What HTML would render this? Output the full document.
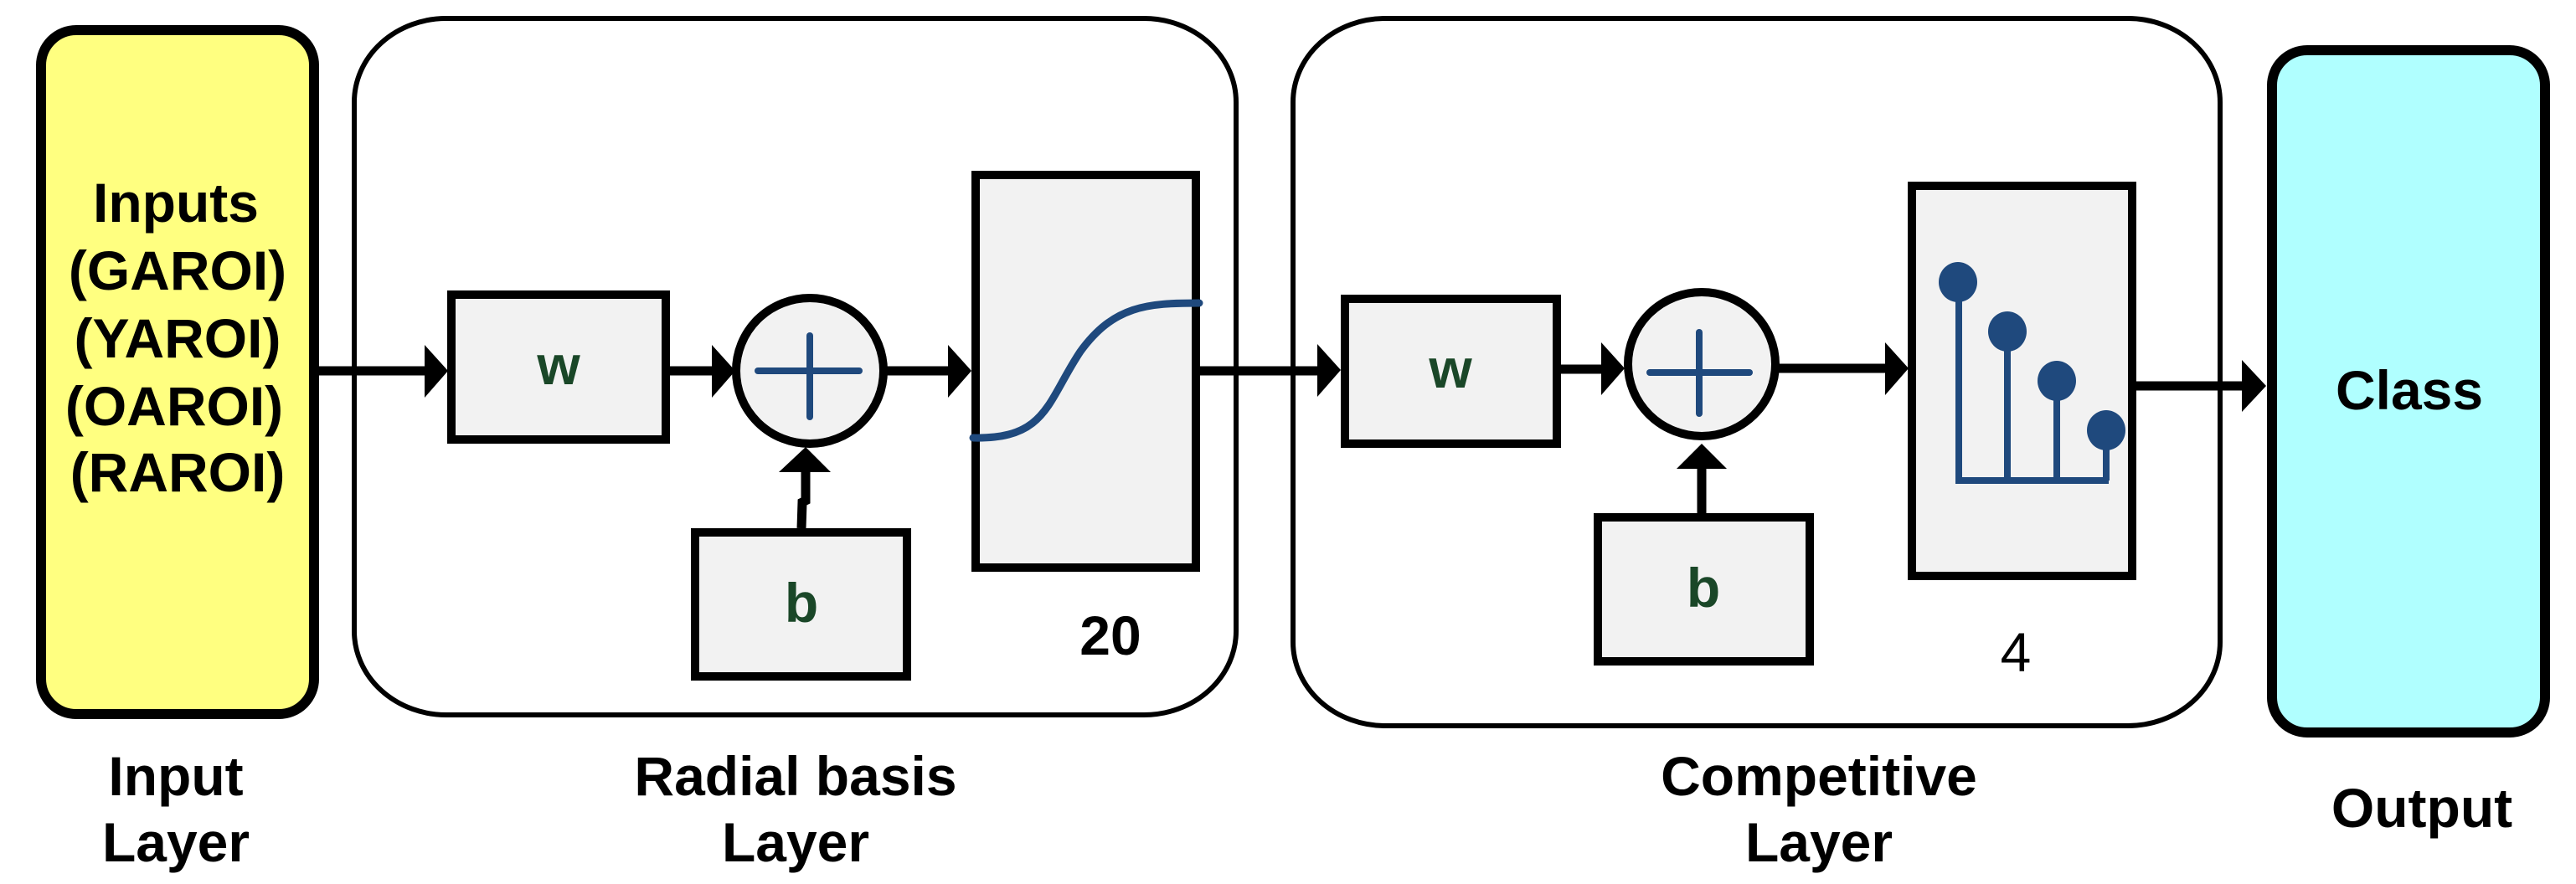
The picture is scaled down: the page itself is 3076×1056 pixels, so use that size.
<!DOCTYPE html>
<html><head><meta charset="utf-8"><style>html,body{margin:0;padding:0;background:#fff}svg{display:block}</style></head><body>
<svg width="3076" height="1056" viewBox="0 0 3076 1056" xmlns="http://www.w3.org/2000/svg" font-family="Liberation Sans, Arial, sans-serif" font-weight="bold">
<!-- Input layer -->
<rect x="49" y="36" width="326" height="817" rx="42" ry="42" fill="#ffff80" stroke="#000" stroke-width="12"/>
<g font-size="66" text-anchor="middle" fill="#000">
<text x="210" y="265">Inputs</text>
<text x="212" y="346">(GAROI)</text>
<text x="212" y="427">(YAROI)</text>
<text x="208" y="508">(OAROI)</text>
<text x="212" y="587">(RAROI)</text>
</g>
<!-- Radial basis box -->
<rect x="423" y="22" width="1053" height="832" rx="110" ry="100" fill="none" stroke="#000" stroke-width="6"/>
<!-- Competitive box -->
<rect x="1544" y="22" width="1107" height="845" rx="110" ry="100" fill="none" stroke="#000" stroke-width="6"/>
<!-- Output -->
<rect x="2713" y="60" width="326" height="815" rx="42" ry="42" fill="#b0ffff" stroke="#000" stroke-width="12"/>

<!-- connectors -->
<g stroke="#000" stroke-width="11" fill="none">
<line x1="375" y1="443" x2="510" y2="443"/>
<line x1="800" y1="443" x2="855" y2="443"/>
<line x1="1056" y1="443" x2="1135" y2="443"/>
<line x1="1433" y1="443" x2="1575" y2="443"/>
<line x1="1863" y1="441" x2="1915" y2="441"/>
<line x1="2122" y1="440" x2="2255" y2="440"/>
<line x1="2551" y1="461" x2="2680" y2="461"/>
<polyline points="957,631 958,600 962,598 962,560"/>
<line x1="2032" y1="613" x2="2032" y2="555"/>
</g>
<g fill="#000">
<polygon points="507,412 535,443 507,475"/>
<polygon points="850,412 878,443 850,475"/>
<polygon points="1132,412 1160,443 1132,475"/>
<polygon points="1573,411 1601,442 1573,474"/>
<polygon points="1912,409 1940,440 1912,472"/>
<polygon points="2251,409 2279,440 2251,472"/>
<polygon points="2677,430 2706,461 2677,492"/>
<polygon points="930,564 962,534 992,564"/>
<polygon points="2002,560 2032,530 2062,560"/>
</g>

<!-- Radial layer blocks -->
<rect x="539" y="352" width="256" height="173" fill="#f2f2f2" stroke="#000" stroke-width="10"/>
<text x="667" y="459" font-size="66" text-anchor="middle" fill="#1a4728">w</text>
<ellipse cx="967" cy="443" rx="88" ry="87" fill="#f2f2f2" stroke="#000" stroke-width="10"/>
<g stroke="#1f497d" stroke-width="8" stroke-linecap="round"><line x1="905" y1="443" x2="1026" y2="443"/><line x1="967" y1="401" x2="967" y2="498"/></g>
<rect x="830" y="636" width="253" height="172" fill="#f2f2f2" stroke="#000" stroke-width="10"/>
<text x="957" y="743" font-size="66" text-anchor="middle" fill="#1a4728">b</text>
<rect x="1165" y="209" width="263" height="469" fill="#f2f2f2" stroke="#000" stroke-width="10"/>
<path d="M1162,523 C1250,525 1250,480 1290,420 C1330,365 1370,362 1432,362" fill="none" stroke="#1f497d" stroke-width="9" stroke-linecap="round"/>
<text x="1326" y="782" font-size="66" text-anchor="middle" fill="#000">20</text>

<!-- Competitive blocks -->
<rect x="1606" y="357" width="253" height="173" fill="#f2f2f2" stroke="#000" stroke-width="10"/>
<text x="1732" y="463" font-size="66" text-anchor="middle" fill="#1a4728">w</text>
<ellipse cx="2032" cy="435" rx="88" ry="86" fill="#f2f2f2" stroke="#000" stroke-width="10"/>
<g stroke="#1f497d" stroke-width="8" stroke-linecap="round"><line x1="1970" y1="445" x2="2089" y2="445"/><line x1="2029" y1="397" x2="2029" y2="494"/></g>
<rect x="1908" y="618" width="253" height="172" fill="#f2f2f2" stroke="#000" stroke-width="10"/>
<text x="2034" y="725" font-size="66" text-anchor="middle" fill="#1a4728">b</text>
<rect x="2283" y="222" width="263" height="466" fill="#f2f2f2" stroke="#000" stroke-width="10"/>
<g stroke="#1f497d" stroke-width="8" fill="none">
<polyline points="2339,337 2339,574 2518,574"/>
<line x1="2397" y1="396" x2="2397" y2="574"/>
<line x1="2456" y1="455" x2="2456" y2="574"/>
<line x1="2515" y1="514" x2="2515" y2="574"/>
</g>
<g fill="#1f497d">
<ellipse cx="2338" cy="337" rx="23" ry="24"/>
<ellipse cx="2397" cy="396" rx="23" ry="24"/>
<ellipse cx="2456" cy="455" rx="23" ry="24"/>
<ellipse cx="2515" cy="514" rx="23" ry="24"/>
</g>
<text x="2407" y="802" font-size="66" text-anchor="middle" font-weight="normal" fill="#000">4</text>

<text x="2877" y="489" font-size="66" text-anchor="middle" fill="#000">Class</text>

<!-- bottom labels -->
<g font-size="66" text-anchor="middle" fill="#000">
<text x="210" y="950">Input</text>
<text x="210" y="1029">Layer</text>
<text x="950" y="950">Radial basis</text>
<text x="950" y="1029">Layer</text>
<text x="2172" y="950">Competitive</text>
<text x="2172" y="1029">Layer</text>
<text x="2892" y="988">Output</text>
</g>
</svg>
</body></html>
